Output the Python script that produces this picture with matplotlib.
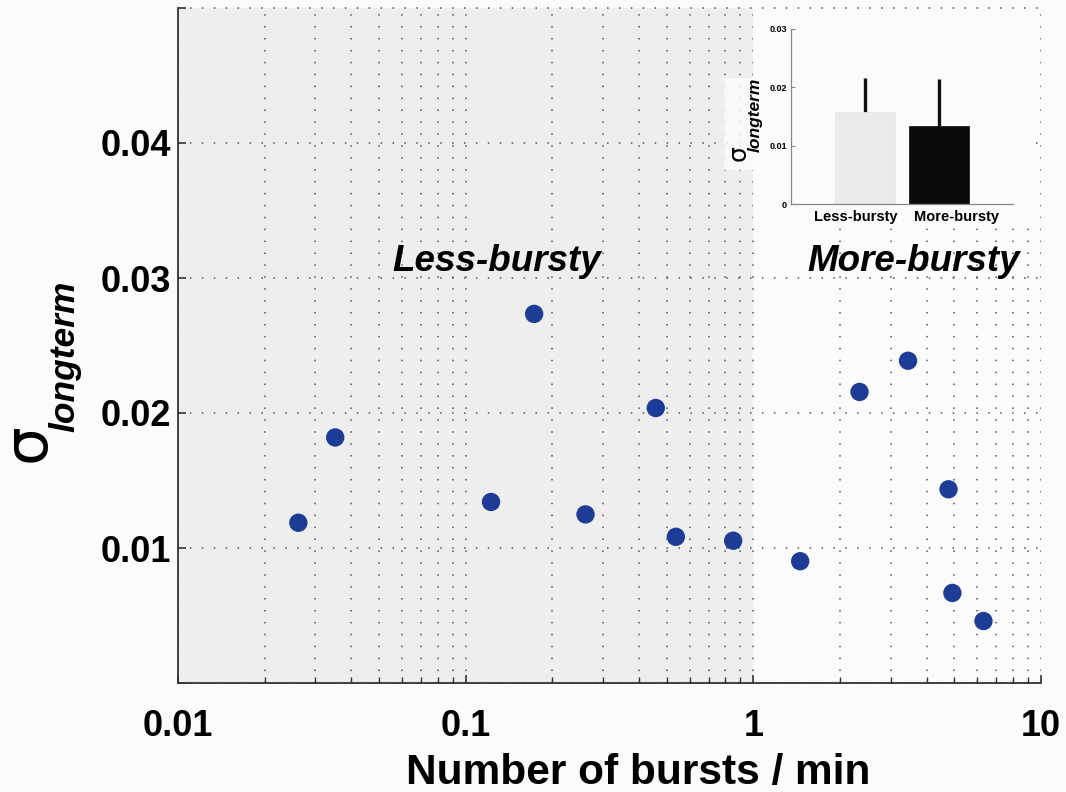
import matplotlib
matplotlib.use("Agg")
import matplotlib.pyplot as plt
from matplotlib.patches import Rectangle
import numpy as np

# ---- data ----
bursts_per_min = [0.0262, 0.0352, 0.1225, 0.173, 0.261, 0.458, 0.538, 0.851,
                  1.455, 2.34, 3.45, 4.77, 4.92, 6.31]
sigma_longterm = [0.01187, 0.01819, 0.01341, 0.02734, 0.01249, 0.02037, 0.01083,
                  0.01054, 0.00902, 0.02156, 0.02387, 0.01435, 0.00667, 0.00459]
group_labels = ["Less-bursty", "More-bursty"]
group_means = [0.01575, 0.01345]
group_err = [0.0059, 0.0080]
x_ticks = [0.01, 0.1, 1, 10]
x_ticklabels = ["0.01", "0.1", "1", "10"]
y_ticks = [0.0, 0.01, 0.02, 0.03, 0.04, 0.05]
y_ticklabels = ["", "0.01", "0.02", "0.03", "0.04", ""]
inset_ticks = [0, 0.01, 0.02, 0.03]
inset_ticklabels = ["0", "0.01", "0.02", "0.03"]

plt.rcParams['font.family'] = ['Liberation Sans', 'DejaVu Sans']

W, H = 1066, 792
BG = '#fbfbfb'
fig = plt.figure(figsize=(W / 100, H / 100), dpi=100, facecolor=BG)

def fx(px):
    return px / W

def fy(py):
    return 1 - py / H

ax = fig.add_axes([fx(178), fy(683), fx(1041) - fx(178), fy(8) - fy(683)])
ax.set_facecolor(BG)
ax.set_xscale('log')
ax.set_xlim(0.01, 10)
ax.set_ylim(0, 0.05)

ax.axvspan(0.01, 1, color='#eeeeee', zorder=0, lw=0)

ax.scatter(bursts_per_min, sigma_longterm, s=175, color='#1d3c96',
           edgecolors='none', zorder=3)

ax.set_xticks(x_ticks)
ax.set_xticklabels(x_ticklabels)
ax.set_yticks(y_ticks)
ax.set_yticklabels(y_ticklabels)

grid_kw = dict(color='#555555', linestyle=(0, (1, 6.8)), linewidth=1.1)
ax.grid(True, which='major', axis='both', **grid_kw)
ax.grid(True, which='minor', axis='x', **grid_kw)
ax.set_axisbelow(True)
for gl in ax.get_ygridlines():
    gl.set_clip_on(False)

for s in ['top', 'right']:
    ax.spines[s].set_visible(False)
for s in ['left', 'bottom']:
    ax.spines[s].set_color('#333333')
    ax.spines[s].set_linewidth(1.3)

ax.tick_params(axis='both', which='major', direction='in', length=6, width=1.2,
               color='#333333', labelsize=26)
ax.tick_params(axis='x', which='major', pad=19)
ax.tick_params(axis='y', which='major', pad=5)
ax.tick_params(axis='x', which='minor', direction='in', length=4, width=1.0,
               color='#333333')
for lab in ax.get_xticklabels() + ax.get_yticklabels():
    lab.set_fontweight('bold')

ax.set_xlabel("Number of bursts / min", fontsize=30.5, fontweight='bold')
ax.xaxis.set_label_coords((638 - 178) / 863, (683 - 773) / 675)
ax.xaxis.label.set_va('center')

# main y label as sigma + subscript
fig.text(fx(28), fy(443), "σ", rotation=90, fontsize=44, ha='center', va='center',
         family=['DejaVu Sans'])
fig.text(fx(64.5), fy(356.5), "longterm", rotation=90, fontsize=25.5,
         fontweight='bold', fontstyle='italic', ha='center', va='center')

ax.text(0.1285, 0.0312, "Less-bursty", fontsize=26.5, fontweight='bold',
        fontstyle='italic', ha='center', va='center', zorder=4)
ax.text(3.6, 0.0312, "More-bursty", fontsize=26.5, fontweight='bold',
        fontstyle='italic', ha='center', va='center', zorder=4)

# white backing for the inset
fig.add_artist(Rectangle((fx(753), fy(226)), fx(1036) - fx(753), fy(12) - fy(226),
                         transform=fig.transFigure, facecolor=BG, edgecolor='none',
                         zorder=1))

# ---- inset ----
ax2 = fig.add_axes([fx(791), fy(204), fx(1013) - fx(791), fy(29) - fy(204)],
                   zorder=2)
ax2.set_facecolor(BG)
pos = np.arange(1, len(group_labels) + 1)
ax2.bar(pos, group_means, width=0.8, color=['#ebebeb', '#0a0a0a'],
        edgecolor=['#e3e3e3', '#0a0a0a'], linewidth=0.5, zorder=2)
ax2.errorbar(pos, group_means, yerr=[[0, 0], group_err], fmt='none',
             ecolor='#111111', elinewidth=2.4, capsize=0, zorder=1)
ax2.set_xlim(0, 3)
ax2.set_ylim(0, 0.03)
ax2.set_xticks(pos)
ax2.set_xticklabels([])
# category labels (offset as in the original figure)
label_x = [0.878, 2.243]
for lx, lab in zip(label_x, group_labels):
    ax2.text(lx, -0.0022, lab, fontsize=10.5, fontweight='bold', ha='center',
             va='center', clip_on=False)
ax2.set_yticks(inset_ticks)
ax2.set_yticklabels(inset_ticklabels, fontsize=6.5, fontweight='bold')
for s in ['top', 'right']:
    ax2.spines[s].set_visible(False)
for s in ['left', 'bottom']:
    ax2.spines[s].set_color('#888888')
    ax2.spines[s].set_linewidth(0.9)
ax2.tick_params(axis='y', direction='in', length=3, width=0.8, color='#888888', pad=3)
ax2.tick_params(axis='x', length=0, pad=3)

fig.add_artist(Rectangle((fx(724), fy(170)), fx(753) - fx(724), fy(78) - fy(170),
                         transform=fig.transFigure, facecolor=BG, edgecolor='none',
                         alpha=0.85, zorder=1))
fig.text(fx(739), fy(153), "σ", rotation=90, fontsize=18, ha='center', va='center',
         family=['DejaVu Sans'], zorder=3)
fig.text(fx(755.5), fy(115), "longterm", rotation=90, fontsize=12.5,
         fontweight='bold', fontstyle='italic', ha='center', va='center', zorder=3)

fig.savefig("out.png", dpi=100, facecolor=BG)
